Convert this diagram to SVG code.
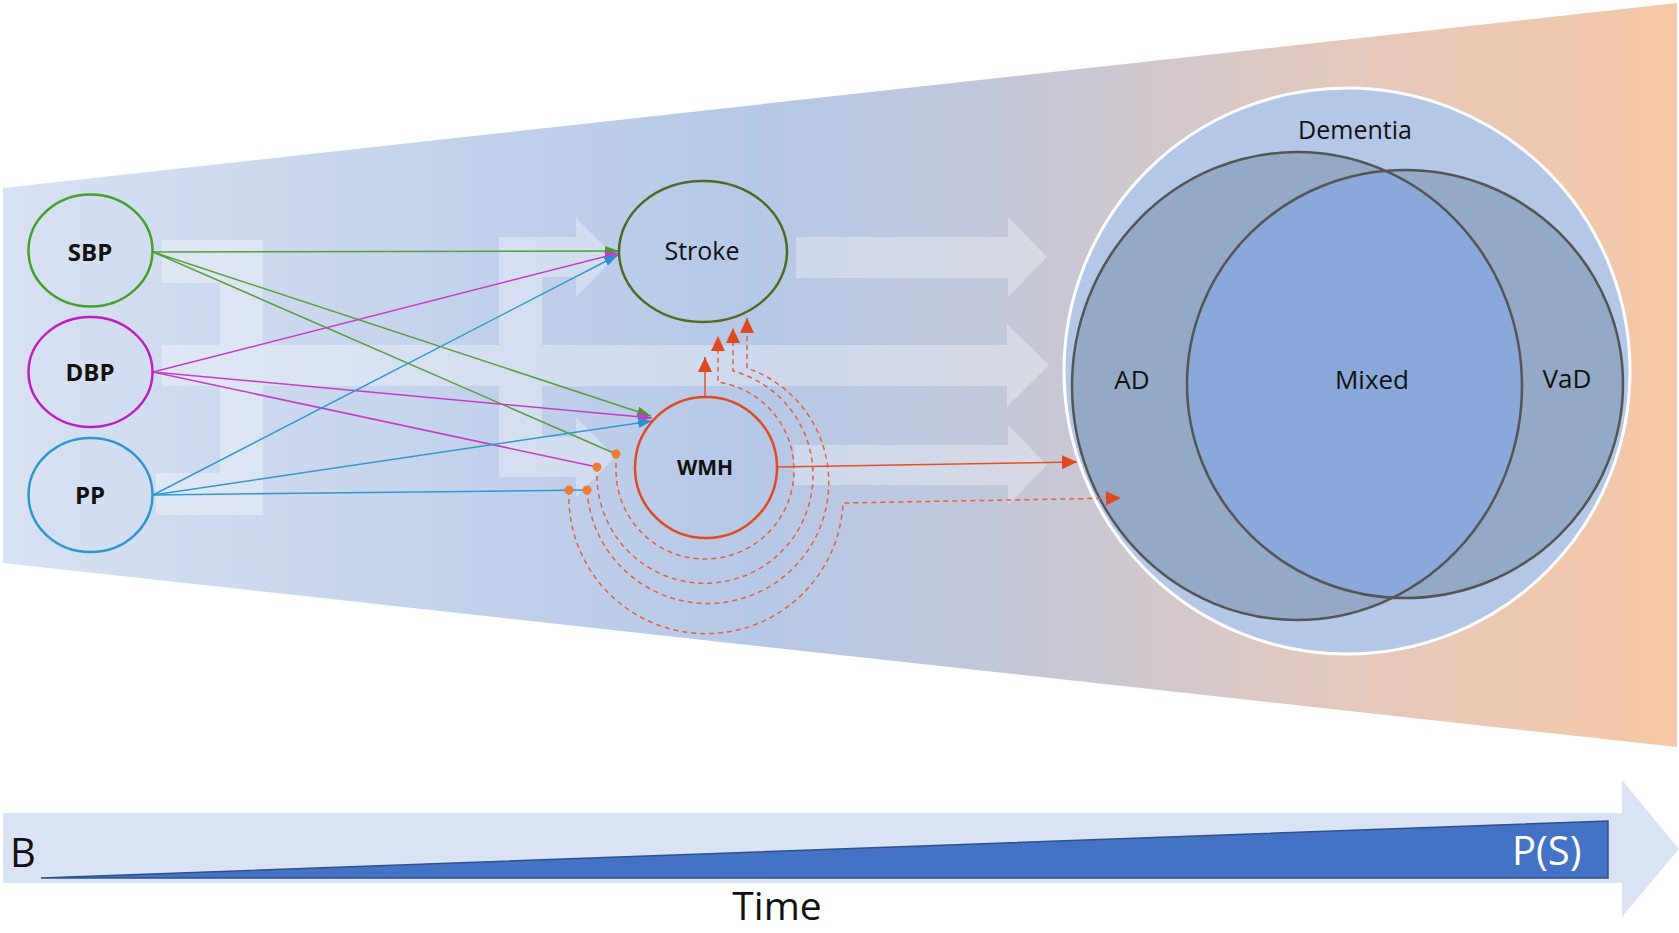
<svg xmlns="http://www.w3.org/2000/svg" width="1679" height="933" viewBox="0 0 1679 933">
<defs>
<style>
.lbl{font-family:"Open Sans","Liberation Sans",sans-serif;fill:#111;text-anchor:middle}
.b{font-weight:bold}
.cn{fill:none;stroke-width:1.5}
.g{stroke:#55a03a}
.m{stroke:#c73cc7}
.bl{stroke:#3199cf}
.r{stroke:#e2502a}
.d{stroke:#e5603a;stroke-dasharray:5 4}
.dot{fill:#ee7d31}
.node{fill:none;stroke-width:2.5}
.venn{stroke:#555;stroke-width:2.5}
</style>
<linearGradient id="bg" x1="3" y1="0" x2="1677" y2="0" gradientUnits="userSpaceOnUse">
<stop offset="0" stop-color="#d7e1f2"/>
<stop offset="0.45" stop-color="#b6c8e7"/>
<stop offset="0.6" stop-color="#c3c7d9"/>
<stop offset="0.8" stop-color="#e4c9bd"/>
<stop offset="1" stop-color="#f6c8a6"/>
</linearGradient>
<clipPath id="adclip"><ellipse cx="1297" cy="386" rx="225" ry="234"/></clipPath>
<marker id="ag" markerUnits="userSpaceOnUse" markerWidth="16" markerHeight="12" refX="14" refY="5" orient="auto"><path d="M0,0 L14,5 L0,10 Z" fill="#4a9a2a"/></marker>
<marker id="am" markerUnits="userSpaceOnUse" markerWidth="16" markerHeight="12" refX="14" refY="5" orient="auto"><path d="M0,0 L14,5 L0,10 Z" fill="#c23cc8"/></marker>
<marker id="ab" markerUnits="userSpaceOnUse" markerWidth="16" markerHeight="12" refX="14" refY="5" orient="auto"><path d="M0,0 L14,5 L0,10 Z" fill="#2d8fcb"/></marker>
<marker id="ar" markerUnits="userSpaceOnUse" markerWidth="18" markerHeight="16" refX="15" refY="7" orient="auto"><path d="M0,0 L15,7 L0,14 Z" fill="#e0481e"/></marker>
</defs>

<g id="background">
<polygon points="3,188 1677,3 1677,747 3,563" fill="url(#bg)"/>
<g fill="#ffffff" opacity="0.32">
<path d="M162,240 L263,240 L263,345 L1007,345 L1007,324 L1049,365 L1007,407 L1007,386 L263,386 L263,515 L156,515 L156,473 L220,473 L220,386 L162,386 L162,345 L220,345 L220,283 L162,283 Z"/>
<path d="M499,237 L576,237 L576,218 L615,257 L576,297 L576,277 L542,277 L542,345 L499,345 Z"/>
<path d="M499,386 L542,386 L542,437 L576,437 L576,417 L615,457 L576,497 L576,477 L499,477 Z"/>
<path d="M796,237 L1008,237 L1008,217 L1047,257 L1008,297 L1008,278 L796,278 Z"/>
<path d="M794,445 L1008,445 L1008,425 L1047,465 L1008,505 L1008,485 L794,485 Z"/>
</g>
</g>

<g id="dementia">
<circle cx="1347" cy="371" r="283" fill="#b4c7e7" stroke="#ffffff" stroke-width="3"/>
<ellipse cx="1297" cy="386" rx="225" ry="234" fill="#94a9c6"/>
<ellipse cx="1405" cy="384" rx="218" ry="214" fill="#94a9c6"/>
<ellipse cx="1405" cy="384" rx="218" ry="214" fill="#8ba8da" clip-path="url(#adclip)"/>
<ellipse class="venn" cx="1297" cy="386" rx="225" ry="234" fill="none"/>
<ellipse class="venn" cx="1405" cy="384" rx="218" ry="214" fill="none"/>
<text class="lbl" x="1355" y="139" font-size="25">Dementia</text>
<text class="lbl" x="1132" y="389" font-size="26">AD</text>
<text class="lbl" x="1372" y="389" font-size="26">Mixed</text>
<text class="lbl" x="1567" y="388" font-size="26">VaD</text>
</g>

<g id="connectors">
<line class="cn g" x1="153" y1="252" x2="619" y2="251" marker-end="url(#ag)"/>
<line class="cn g" x1="153" y1="252" x2="651" y2="416" marker-end="url(#ag)"/>
<line class="cn g" x1="153" y1="252" x2="616" y2="454"/>
<line class="cn m" x1="153" y1="372" x2="619" y2="253" marker-end="url(#am)"/>
<line class="cn m" x1="153" y1="372" x2="652" y2="418" marker-end="url(#am)"/>
<line class="cn m" x1="153" y1="372" x2="597" y2="467"/>
<line class="cn bl" x1="153" y1="495" x2="618" y2="255" marker-end="url(#ab)"/>
<line class="cn bl" x1="153" y1="495" x2="652" y2="421" marker-end="url(#ab)"/>
<line class="cn bl" x1="153" y1="495" x2="587" y2="490"/>
<path class="cn d" d="M616,454 L616,470 A89,89 0 1 0 718,382 L718,336" marker-end="url(#ar)"/>
<path class="cn d" d="M597,467 L597,475 A108,108 0 1 0 733,371 L733,328" marker-end="url(#ar)"/>
<path class="cn d" d="M587,490 A121,121 0 1 0 747,368 L747,318" marker-end="url(#ar)"/>
<path class="cn d" d="M569,490 A137,137 0 0 0 843,503 L1121,498" marker-end="url(#ar)"/>
<line class="cn r" x1="705" y1="397" x2="705" y2="357" marker-end="url(#ar)"/>
<line class="cn r" x1="777" y1="467" x2="1077" y2="462" marker-end="url(#ar)"/>
<circle class="dot" cx="616" cy="454" r="4.5"/>
<circle class="dot" cx="597" cy="467" r="4.5"/>
<circle class="dot" cx="587" cy="490" r="4.5"/>
<circle class="dot" cx="569" cy="490" r="4.5"/>
</g>

<g id="node-sbp">
<ellipse class="node" cx="90.5" cy="250.5" rx="62" ry="56" stroke="#45a02a"/>
<text class="lbl b" x="90" y="261" font-size="24">SBP</text>
</g>
<g id="node-dbp">
<ellipse class="node" cx="90.5" cy="372" rx="62" ry="55" stroke="#c01fc0"/>
<text class="lbl b" x="90" y="381" font-size="24">DBP</text>
</g>
<g id="node-pp">
<ellipse class="node" cx="90.5" cy="495" rx="62" ry="57" stroke="#2e97cf"/>
<text class="lbl b" x="90" y="504" font-size="24">PP</text>
</g>
<g id="node-stroke">
<ellipse class="node" cx="703" cy="251.5" rx="84" ry="70.5" stroke="#4e6b1f"/>
<text class="lbl" x="702" y="260" font-size="25">Stroke</text>
</g>
<g id="node-wmh">
<ellipse class="node" cx="706" cy="467.5" rx="71" ry="70.5" stroke="#e04b1f"/>
<text class="lbl b" x="705" y="475" font-size="21">WMH</text>
</g>

<g id="timeline">
<path d="M3,813 L1622,813 L1622,780 L1679,849 L1622,917 L1622,883 L3,883 Z" fill="#dae3f3"/>
<polygon points="41,878 1608,821 1608,878" fill="#4472c4" stroke="#2f528f" stroke-width="1.5"/>
<text x="10" y="867" font-family="'Open Sans','Liberation Sans',sans-serif" font-size="40" fill="#111">B</text>
<text x="1512" y="865" font-family="'Open Sans','Liberation Sans',sans-serif" font-size="40" fill="#ffffff">P(S)</text>
<text class="lbl" x="777" y="920" font-size="39">Time</text>
</g>
</svg>
